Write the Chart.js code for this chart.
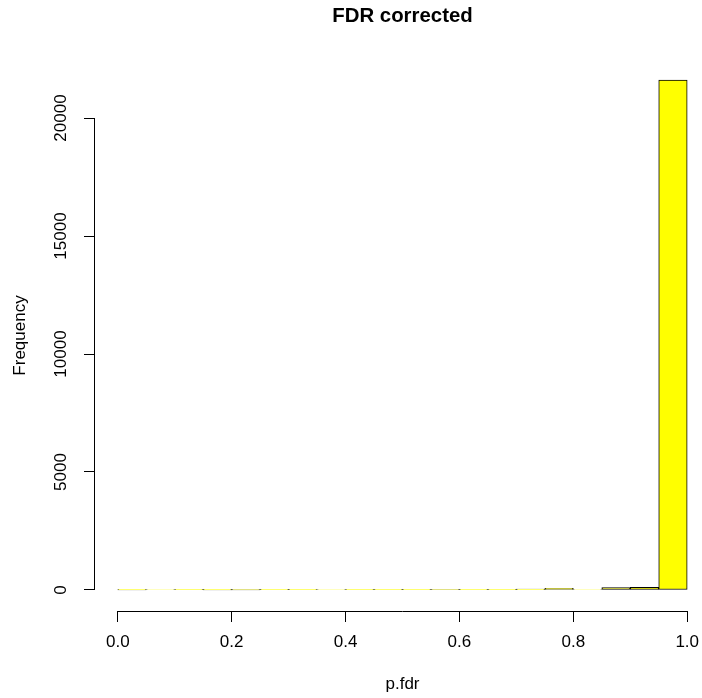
<!DOCTYPE html>
<html lang="en">
<head>
    <meta charset="UTF-8">
    <title>FDR corrected</title>
    <script src="https://cdn.jsdelivr.net/npm/chart.js@4/dist/chart.umd.min.js"></script>
    <style>
        body { margin: 0; background: #fff; }
        canvas { display: block; }
    </style>
</head>
<body>
    <canvas id="hist" width="702" height="698"></canvas>

    <script>
        // histogram of p.fdr, bins of width 0.05
        const binStarts = [0.00, 0.05, 0.10, 0.15, 0.20, 0.25, 0.30, 0.35, 0.40, 0.45,
                           0.50, 0.55, 0.60, 0.65, 0.70, 0.75, 0.80, 0.85, 0.90, 0.95];
        const counts = [8, 20, 12, 5, 3, 10, 14, 22, 15, 25,
                        30, 18, 28, 32, 36, 75, 20, 105, 115, 21610];
        const xTicks = [0, 0.2, 0.4, 0.6, 0.8, 1.0];
        const yTicks = [0, 5000, 10000, 15000, 20000];

        const binWidth = 0.05;
        const font = '"Liberation Sans", Arial, sans-serif';

        // R style: axis lines only over tick range, labels placed like base graphics
        const rAxes = {
            id: 'rAxes',
            afterDraw(chart) {
                const { ctx, chartArea, scales: { x, y } } = chart;
                ctx.save();
                ctx.strokeStyle = '#000';
                ctx.lineWidth = 1;
                ctx.beginPath();
                const yb = Math.round(chartArea.bottom) + 0.5;
                ctx.moveTo(x.getPixelForValue(xTicks[0]), yb);
                ctx.lineTo(x.getPixelForValue(xTicks[xTicks.length - 1]), yb);
                const xl = Math.round(chartArea.left) - 0.5;
                ctx.moveTo(xl, y.getPixelForValue(yTicks[0]));
                ctx.lineTo(xl, y.getPixelForValue(yTicks[yTicks.length - 1]));
                ctx.stroke();

                ctx.fillStyle = '#000';
                ctx.textAlign = 'center';
                ctx.textBaseline = 'middle';
                ctx.font = '17px ' + font;
                yTicks.forEach(v => {
                    ctx.save();
                    ctx.translate(61, y.getPixelForValue(v));
                    ctx.rotate(-Math.PI / 2);
                    ctx.fillText(String(v), 0, 0);
                    ctx.restore();
                });

                const midX = x.getPixelForValue(0.5);
                ctx.fillText('p.fdr', midX, 684);

                ctx.save();
                ctx.translate(20, (chartArea.top + chartArea.bottom) / 2);
                ctx.rotate(-Math.PI / 2);
                ctx.fillText('Frequency', 0, 0);
                ctx.restore();

                ctx.font = 'bold 20.4px ' + font;
                ctx.fillText('FDR corrected', midX, 16);
                ctx.restore();
            }
        };

        new Chart(document.getElementById('hist'), {
            type: 'bar',
            data: {
                datasets: [{
                    data: binStarts.map((b, i) => ({ x: b + binWidth / 2, y: counts[i] })),
                    backgroundColor: '#ffff00',
                    borderColor: '#000',
                    borderWidth: 1,
                    borderSkipped: false,
                    barPercentage: 1,
                    categoryPercentage: 1
                }]
            },
            options: {
                responsive: false,
                animation: false,
                layout: { padding: { top: 60, right: 0, left: 0, bottom: 0 } },
                plugins: { legend: { display: false }, tooltip: { enabled: false } },
                scales: {
                    x: {
                        type: 'linear',
                        offset: false,
                        min: -0.04,
                        max: 1.026,
                        afterBuildTicks: s => { s.ticks = xTicks.map(v => ({ value: v })); },
                        afterFit: s => {
                            s.height = 87;
                            s.paddingLeft = 0;
                            s.paddingRight = 0;
                        },
                        grid: { offset: false, drawOnChartArea: false, tickLength: 11, color: '#000' },
                        border: { display: false },
                        ticks: {
                            color: '#000',
                            font: { family: font, size: 17 },
                            padding: 10,
                            maxRotation: 0,
                            callback: v => v.toFixed(1)
                        }
                    },
                    y: {
                        min: -890,
                        max: 22458,
                        afterBuildTicks: s => { s.ticks = yTicks.map(v => ({ value: v })); },
                        afterFit: s => { s.width = 95; },
                        grid: { drawOnChartArea: false, tickLength: 11, color: '#000' },
                        border: { display: false },
                        ticks: { display: false }
                    }
                }
            },
            plugins: [rAxes]
        });
    </script>
</body>
</html>
